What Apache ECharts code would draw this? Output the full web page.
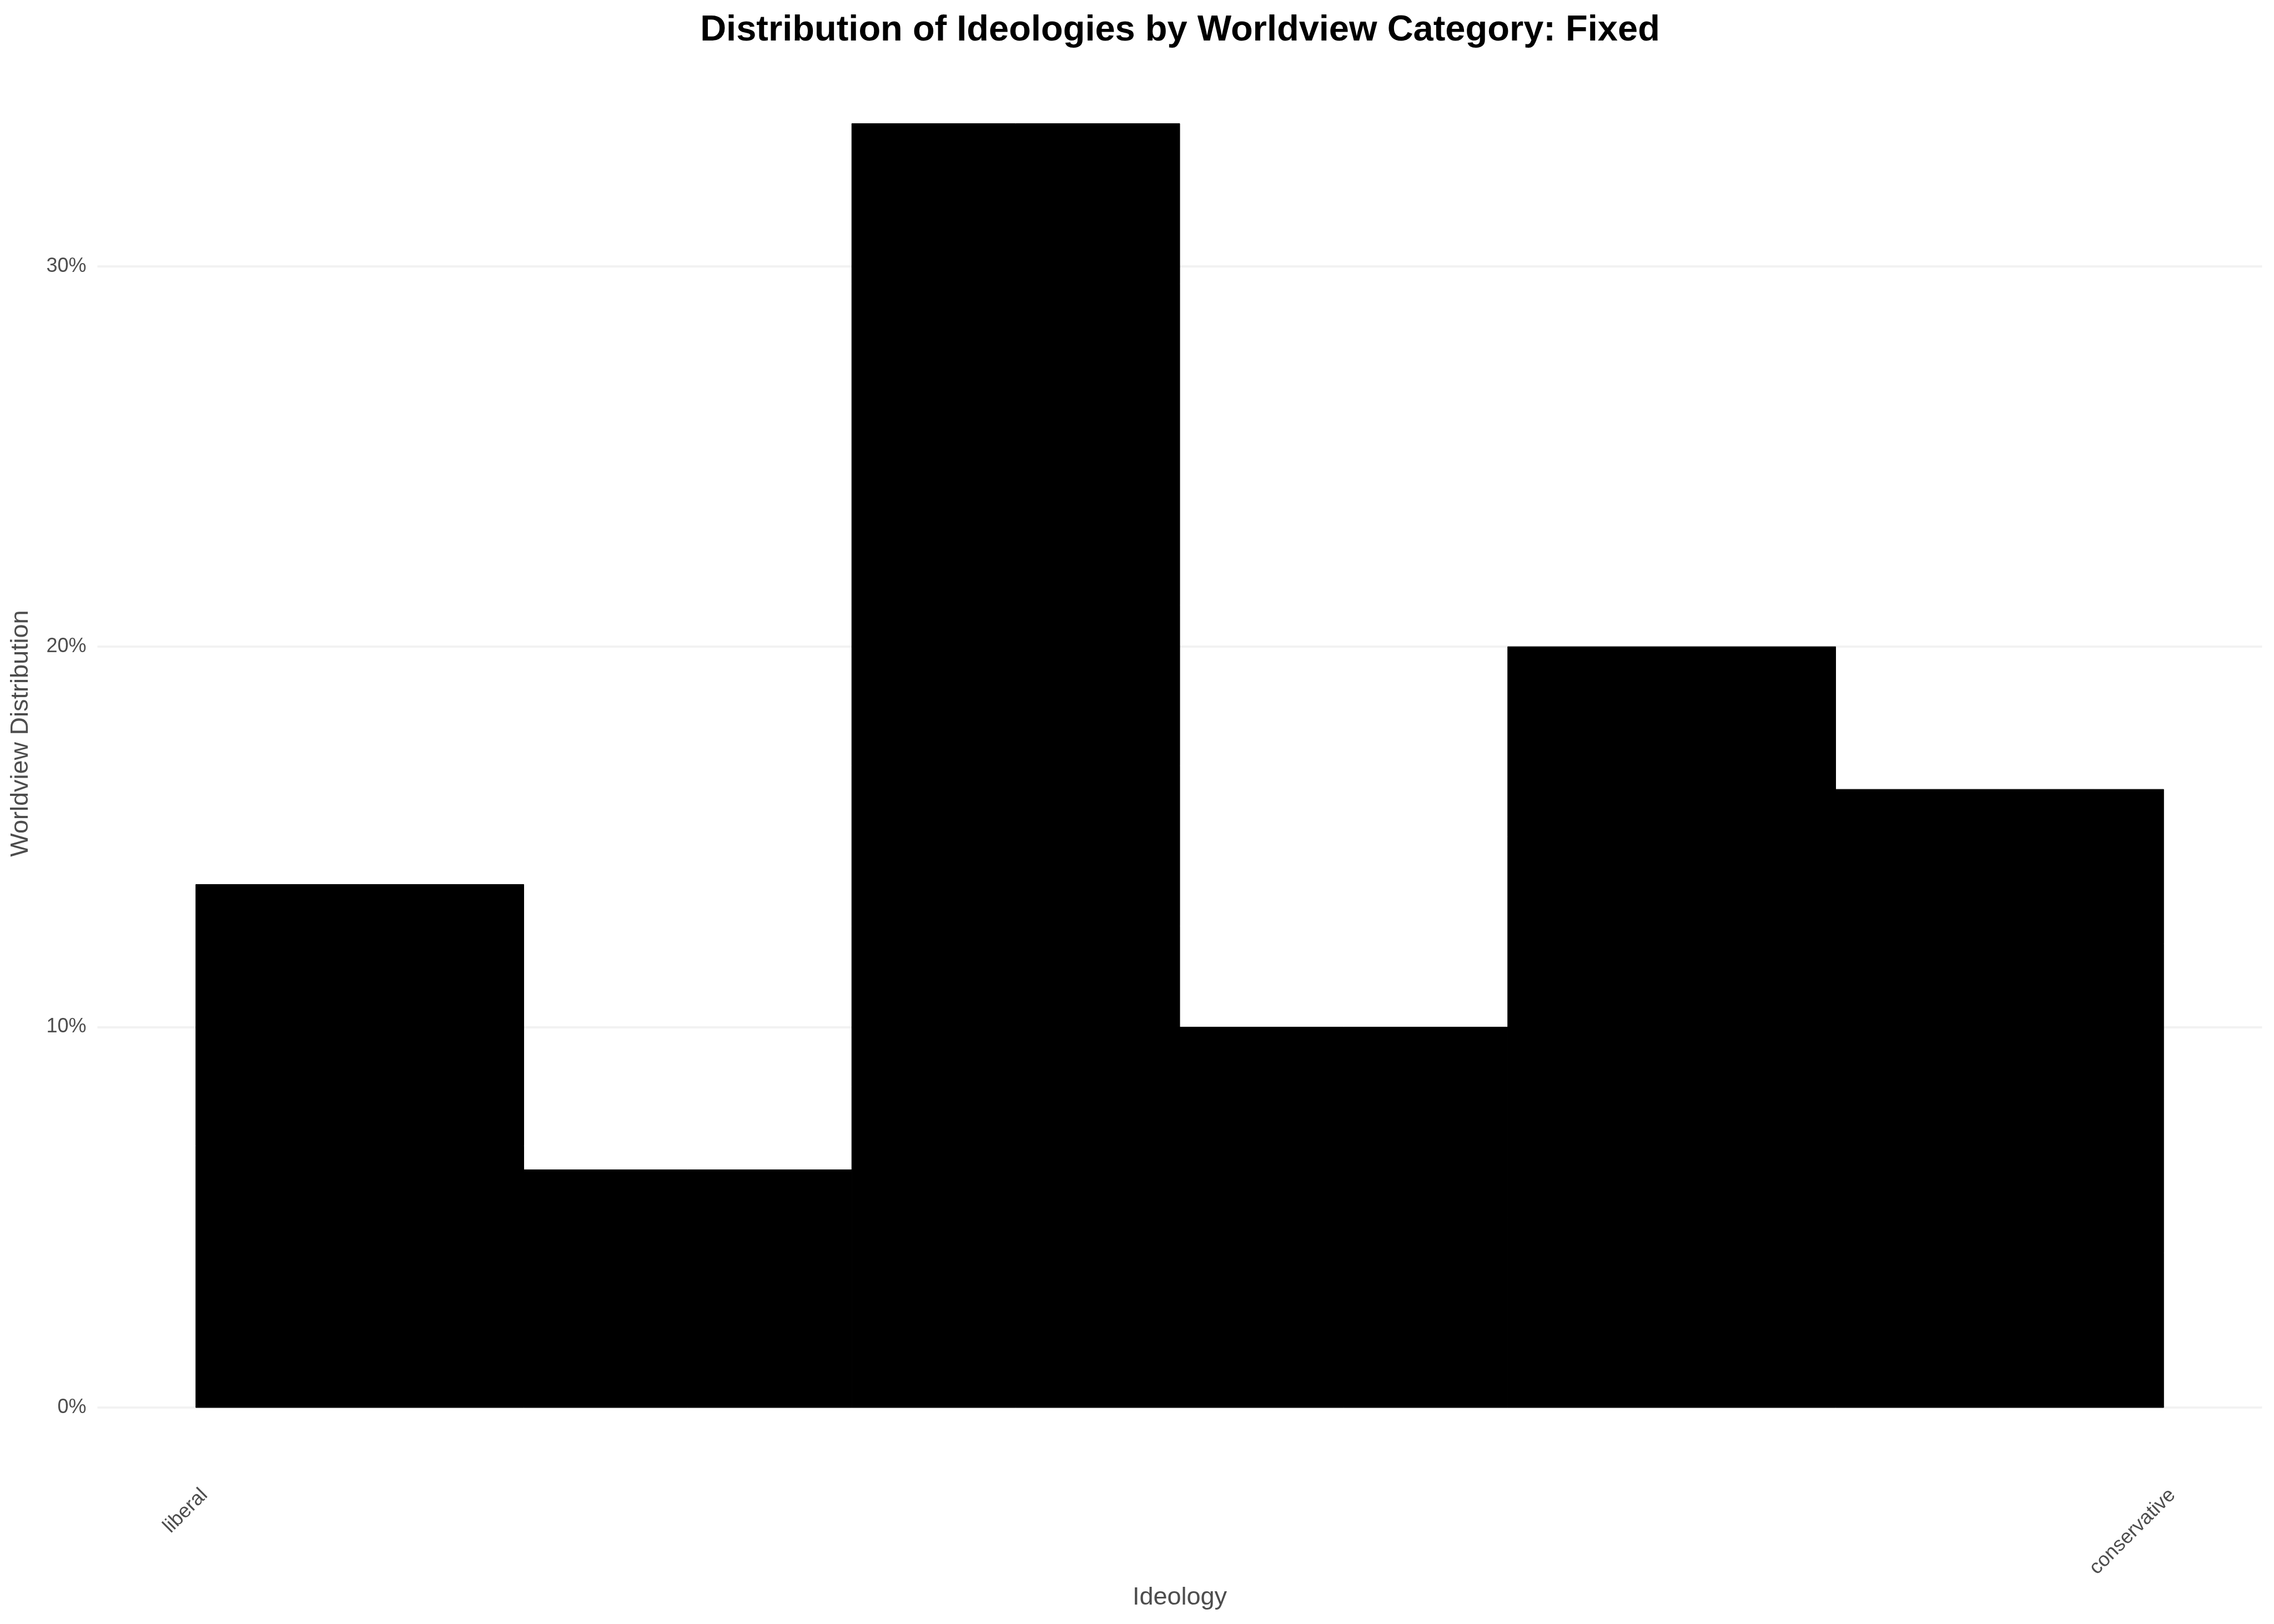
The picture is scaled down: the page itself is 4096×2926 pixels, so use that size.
<!DOCTYPE html>
<html>
<head>
<meta charset="utf-8">
<script src="https://cdn.jsdelivr.net/npm/echarts@6/dist/echarts.min.js"></script>
<style>
html, body { margin: 0; padding: 0; background: #ffffff; }
#chart { width: 4096px; height: 2926px; }
</style>
</head>
<body>
<div id="chart"></div>
<script>
// ---- data ----
const binStarts = [1, 2, 3, 4, 5, 6];
const binEnds = [2, 3, 4, 5, 6, 7];
const shares = [13.75, 6.25, 33.75, 10, 20, 16.25];
const xTickValues = [1, 7];
const xTickLabels = ['liberal', 'conservative'];
const yTickValues = [0, 10, 20, 30];

const titleText = 'Distribution of Ideologies by Worldview Category: Fixed';
const xTitle = 'Ideology';
const yTitle = 'Worldview Distribution';

// ---- build ----
const histData = binStarts.map((s, i) => [s, binEnds[i], shares[i]]);
const xSpan = binEnds[binEnds.length - 1] - binStarts[0];
const xMin = binStarts[0] - 0.05 * xSpan;
const xMax = binEnds[binEnds.length - 1] + 0.05 * xSpan;
const yMax = Math.max(...shares) * 1.05;

const FONT = '"Liberation Sans", Arial, Helvetica, sans-serif';
const chart = echarts.init(document.getElementById('chart'), null, { renderer: 'canvas' });

chart.setOption({
  backgroundColor: '#ffffff',
  animation: false,
  title: {
    text: titleText,
    left: 2125.5,
    top: 23,
    padding: 0,
    textAlign: 'center',
    textStyle: { fontFamily: FONT, fontWeight: 'bold', fontSize: 65, color: '#000000' }
  },
  grid: { left: 175.5, right: 21.5, top: 107, bottom: 390, containLabel: false },
  xAxis: {
    type: 'value',
    min: xMin,
    max: xMax,
    name: xTitle,
    nameLocation: 'middle',
    nameGap: 320,
    nameTextStyle: { fontFamily: FONT, fontSize: 45, color: '#4D4D4D' },
    axisLine: { show: false },
    axisTick: { show: false },
    splitLine: { show: false },
    axisLabel: {
      customValues: xTickValues,
      formatter: (v) => {
        const i = xTickValues.indexOf(v);
        return i >= 0 ? xTickLabels[i] : '';
      },
      rotate: 45,
      margin: 168,
      padding: [0, -22, 0, 0],
      fontFamily: FONT,
      fontSize: 36,
      color: '#4D4D4D'
    }
  },
  yAxis: {
    type: 'value',
    min: 0,
    max: yMax,
    interval: 10,
    name: yTitle,
    nameLocation: 'middle',
    nameGap: 115,
    nameTextStyle: { fontFamily: FONT, fontSize: 45, color: '#4D4D4D' },
    axisLine: { show: false },
    axisTick: { show: false },
    splitLine: { show: true, showMaxLine: false, lineStyle: { color: '#F2F2F2', width: 4 } },
    axisLabel: {
      customValues: yTickValues,
      formatter: (v) => v + '%',
      margin: 20,
      fontFamily: FONT,
      fontSize: 36,
      color: '#4D4D4D'
    }
  },
  series: [{
    type: 'custom',
    data: histData,
    encode: { x: [0, 1], y: 2 },
    renderItem: function (params, api) {
      const p0 = api.coord([api.value(0), api.value(2)]);
      const p1 = api.coord([api.value(1), 0]);
      return {
        type: 'rect',
        shape: { x: p0[0], y: p0[1], width: p1[0] - p0[0], height: p1[1] - p0[1] },
        style: { fill: '#000000', stroke: '#000000', lineWidth: 1 }
      };
    }
  }]
});
</script>
</body>
</html>
